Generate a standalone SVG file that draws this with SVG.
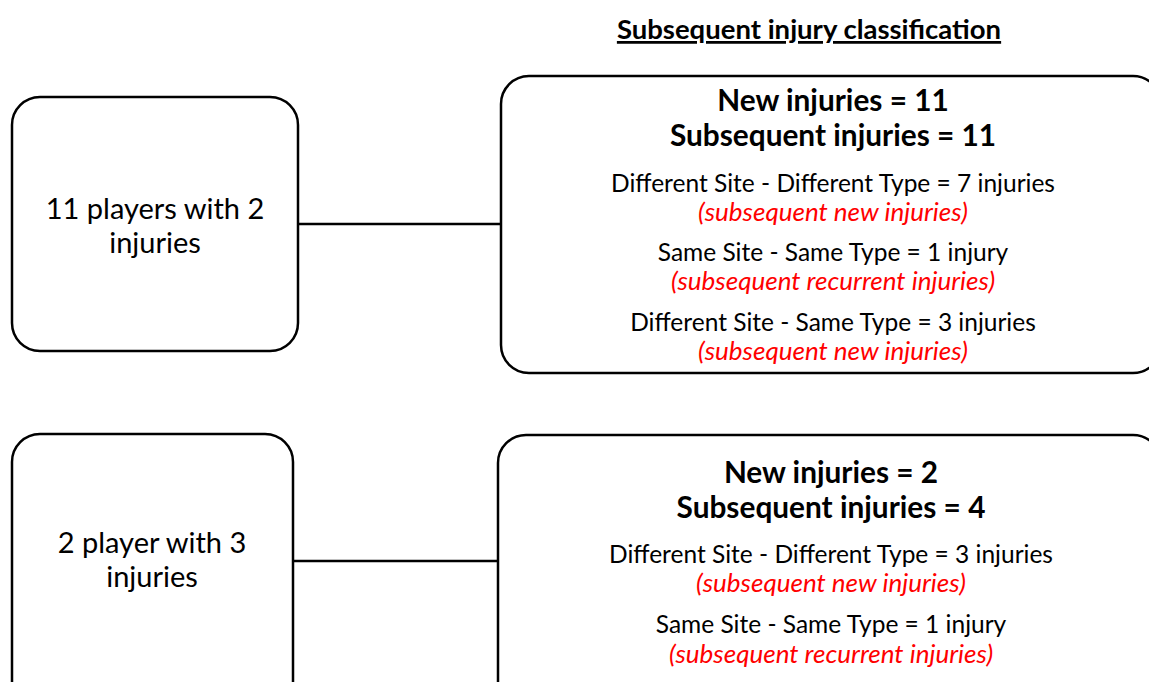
<svg xmlns="http://www.w3.org/2000/svg" width="1149" height="682" viewBox="0 0 1149 682">
<style>
.box{fill:#fff;stroke:#000;stroke-width:2.5}
.edge{stroke:#000;stroke-width:2.5;fill:none}
text{font-family:Lato,"Liberation Sans",sans-serif;text-anchor:middle;fill:#000}
.big{font-size:29px}
.bold{font-size:29.8px;font-weight:bold}
.reg{font-size:24.5px}
.red{font-size:26px;font-style:italic;fill:#ff0000}
.title{font-size:27.5px;font-weight:bold;text-decoration:underline}
</style>
<rect width="1149" height="682" fill="#fff"/>
<text class="title" x="809" y="39">Subsequent injury classification</text>
<g id="connectors">
<line class="edge" x1="298" y1="224" x2="501" y2="224"/>
<line class="edge" x1="293" y1="561" x2="498" y2="561"/>
</g>
<g id="players2">
<rect class="box" x="12" y="97" width="286" height="254" rx="28"/>
<text class="big" x="155" y="219">11 players with 2</text>
<text class="big" x="155" y="253">injuries</text>
</g>
<g id="class2">
<rect class="box" x="501" y="76" width="660" height="297" rx="28"/>
<text class="bold" x="833" y="111">New injuries = 11</text>
<text class="bold" x="833" y="146">Subsequent injuries = 11</text>
<text class="reg" x="833" y="192">Different Site - Different Type = 7 injuries</text>
<text class="red" x="833" y="221">(subsequent new injuries)</text>
<text class="reg" x="833" y="261">Same Site - Same Type = 1 injury</text>
<text class="red" x="833" y="290">(subsequent recurrent injuries)</text>
<text class="reg" x="833" y="331">Different Site - Same Type = 3 injuries</text>
<text class="red" x="833" y="360">(subsequent new injuries)</text>
</g>
<g id="players3">
<rect class="box" x="12" y="434" width="281" height="280" rx="28"/>
<text class="big" x="152" y="553">2 player with 3</text>
<text class="big" x="152" y="587">injuries</text>
</g>
<g id="class3">
<rect class="box" x="498" y="435" width="663" height="280" rx="28"/>
<text class="bold" x="831" y="483">New injuries = 2</text>
<text class="bold" x="831" y="518">Subsequent injuries = 4</text>
<text class="reg" x="831" y="563">Different Site - Different Type = 3 injuries</text>
<text class="red" x="831" y="592">(subsequent new injuries)</text>
<text class="reg" x="831" y="633">Same Site - Same Type = 1 injury</text>
<text class="red" x="831" y="663">(subsequent recurrent injuries)</text>
</g>
</svg>
